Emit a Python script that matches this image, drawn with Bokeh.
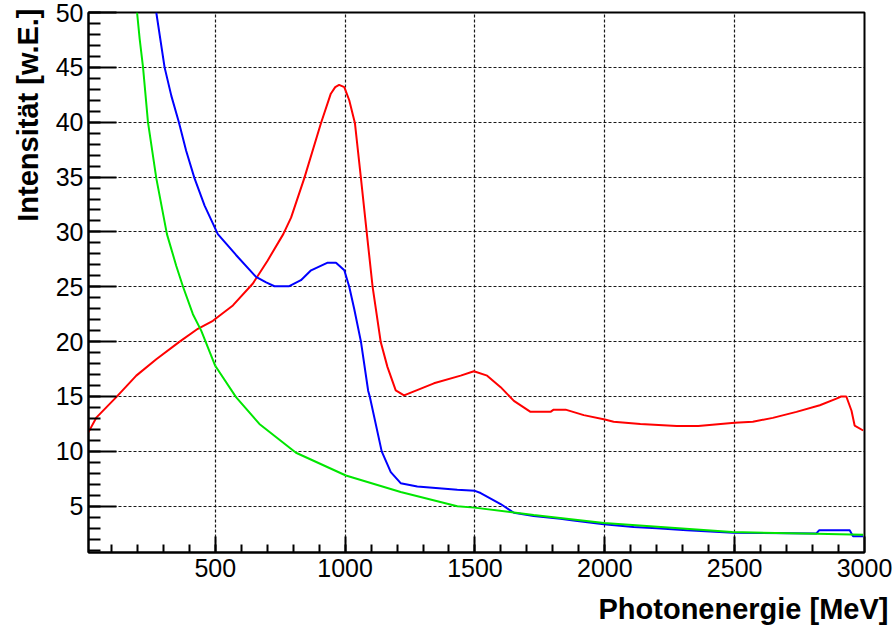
from bokeh.plotting import figure
from bokeh.models import FixedTicker, Title, Range1d
from bokeh.embed import file_html
from bokeh.resources import INLINE

# ---- data ----
red_x = [12, 43, 119, 196, 273, 363, 433, 491, 568, 645, 702, 762, 792, 843, 907, 945, 962,
         977, 997, 1016, 1038, 1061, 1084, 1106, 1137, 1163, 1195, 1227, 1342, 1445, 1496, 1547,
         1599, 1650, 1714, 1791, 1803, 1849, 1919, 2000, 2034, 2137, 2277, 2360, 2500, 2570, 2647,
         2738, 2828, 2892, 2910, 2930, 2950, 2962, 2995]
red_y = [11.75, 13.1, 14.94, 16.9, 18.4, 20.0, 21.17, 21.9, 23.3, 25.3, 27.4, 29.8, 31.3, 34.9,
         39.9, 42.6, 43.2, 43.4, 43.2, 42.0, 39.9, 34.9, 29.8, 25.0, 20.0, 17.7, 15.55, 15.1, 16.2,
         16.9, 17.3, 16.9, 15.85, 14.6, 13.6, 13.6, 13.8, 13.8, 13.3, 12.9, 12.7, 12.5, 12.3, 12.3,
         12.6, 12.7, 13.05, 13.6, 14.2, 14.8, 15.0, 15.0, 13.7, 12.35, 11.9]

blue_x = [273, 305, 331, 360, 388, 420, 459, 510, 580, 657, 696, 728, 785, 830, 869, 933, 965, 997,
          1016, 1035, 1061, 1089, 1095, 1141, 1176, 1214, 1278, 1432, 1500, 1522, 1599, 1650, 1726,
          1829, 1879, 1996, 2111, 2200, 2316, 2495, 2815, 2825, 2840, 2943, 2956, 2995]
blue_y = [50.0, 45.0, 42.4, 40.0, 37.4, 34.9, 32.4, 29.8, 27.9, 25.9, 25.4, 25.05, 25.05, 25.6,
          26.5, 27.2, 27.2, 26.5, 25.0, 23.0, 20.0, 15.5, 15.0, 10.0, 8.1, 7.1, 6.8, 6.5, 6.4, 6.2,
          5.2, 4.4, 4.1, 3.85, 3.7, 3.35, 3.1, 2.98, 2.8, 2.58, 2.52, 2.8, 2.8, 2.8, 2.25, 2.25]

green_x = [199, 209, 222, 241, 273, 314, 350, 376, 414, 446, 500, 580, 670, 811, 1003, 1214, 1432,
           1498, 1726, 1997, 2490, 2815, 2995]
green_y = [50.0, 47.6, 45.0, 40.0, 34.9, 29.8, 26.9, 25.0, 22.5, 21.0, 17.8, 14.94, 12.5, 9.87,
           7.8, 6.3, 5.0, 4.87, 4.2, 3.46, 2.64, 2.5, 2.4]

x_major = [500, 1000, 1500, 2000, 2500, 3000]
x_minor = list(range(100, 3000, 100))
y_major = [5, 10, 15, 20, 25, 30, 35, 40, 45, 50]
y_minor = list(range(1, 51))

x_title = "Photonenergie [MeV]"
y_title = "Intensität [w.E.]"

FONT = "Liberation Sans"

p = figure(width=893, height=635, output_backend="svg", toolbar_location=None,
           x_range=Range1d(12, 3000), y_range=Range1d(0.78, 50),
           min_border_left=87, min_border_right=29, min_border_top=12, min_border_bottom=83)
p.background_fill_color = "white"
p.border_fill_color = "white"
p.outline_line_color = "black"
p.outline_line_width = 2
p.outline_line_alpha = 1.0

p.line(red_x, red_y, line_color="#ff0000", line_width=2)
p.line(blue_x, blue_y, line_color="#0000ff", line_width=2)
p.line(green_x, green_y, line_color="#00e600", line_width=2)

p.xaxis.ticker = FixedTicker(ticks=x_major, minor_ticks=x_minor)
p.yaxis.ticker = FixedTicker(ticks=y_major, minor_ticks=y_minor)

for ax in (p.xaxis[0], p.yaxis[0]):
    ax.axis_line_color = "black"
    ax.axis_line_width = 2
    ax.major_tick_line_color = "black"
    ax.minor_tick_line_color = "black"
    ax.major_tick_line_width = 2
    ax.minor_tick_line_width = 2
    ax.major_tick_out = 0
    ax.minor_tick_out = 0
    ax.major_label_text_font = FONT
    ax.major_label_text_font_size = "25px"
    ax.major_label_text_color = "black"

p.yaxis.major_tick_in = 28
p.yaxis.minor_tick_in = 12
p.xaxis.major_tick_in = 16
p.xaxis.minor_tick_in = 8
p.yaxis.major_label_standoff = 5
p.xaxis.major_label_standoff = 6

for g in (p.xgrid[0], p.ygrid[0]):
    g.grid_line_color = "black"
    g.grid_line_dash = "3 2"
    g.grid_line_width = 1.2
    g.grid_line_alpha = 0.9
p.xgrid.ticker = FixedTicker(ticks=x_major)
p.ygrid.ticker = FixedTicker(ticks=y_major)

p.add_layout(Title(text=x_title, align="right", text_font=FONT, text_font_style="bold",
                   text_font_size="29px", text_color="black", offset=-24, standoff=22), "below")
p.add_layout(Title(text=y_title, align="right", text_font=FONT, text_font_style="bold",
                   text_font_size="29px", text_color="black", offset=-4, standoff=18), "left")

open("out.html", "w").write(file_html(p, INLINE))
